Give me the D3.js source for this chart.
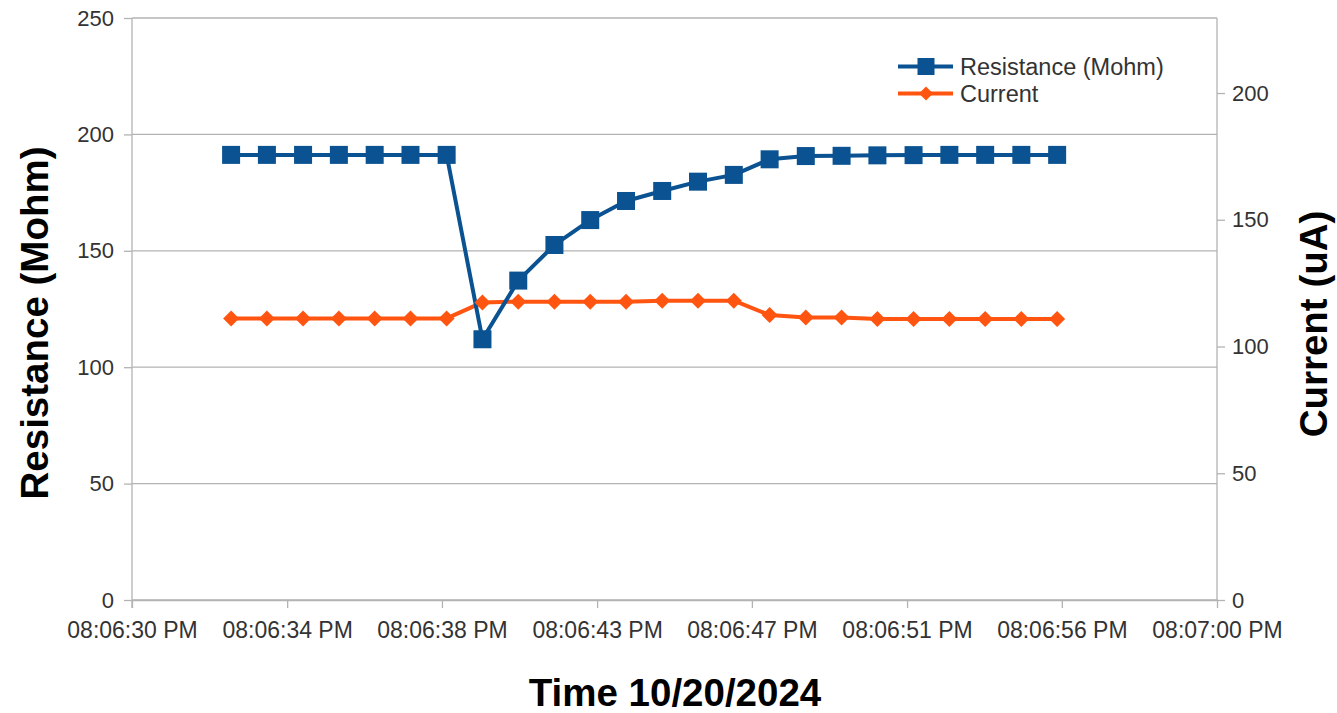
<!DOCTYPE html>
<html>
<head>
<meta charset="utf-8">
<script src="https://cdn.jsdelivr.net/npm/d3@7"></script>
<style>
  html, body { margin: 0; padding: 0; background: #fff; }
  svg { display: block; font-family: "Liberation Sans", Arial, sans-serif; }
</style>
</head>
<body>
<svg id="chart" width="1337" height="713"></svg>
<script>
// ---- data ----
const timeSeconds = [32.74, 33.73, 34.73, 35.72, 36.71, 37.70, 38.70, 39.69, 40.68, 41.68, 42.67, 43.66,
                     44.66, 45.65, 46.64, 47.63, 48.63, 49.62, 50.61, 51.61, 52.60, 53.59, 54.59, 55.58];
const resistance = [191.2, 191.2, 191.2, 191.2, 191.2, 191.2, 191.2, 112.0, 137.2, 152.5, 163.2, 171.4,
                    175.7, 179.7, 182.6, 189.3, 190.7, 190.8, 191.0, 191.1, 191.2, 191.2, 191.2, 191.2];
const current = [111.1, 111.1, 111.1, 111.1, 111.1, 111.1, 111.1, 117.4, 117.7, 117.7, 117.7, 117.7,
                 118.1, 118.1, 118.1, 112.4, 111.4, 111.4, 110.9, 110.9, 110.9, 110.9, 110.9, 110.9];
const xTickSeconds = [30, 34.29, 38.57, 42.86, 47.14, 51.43, 55.71, 60];
const xTickLabels = ["08:06:30 PM", "08:06:34 PM", "08:06:38 PM", "08:06:43 PM",
                     "08:06:47 PM", "08:06:51 PM", "08:06:56 PM", "08:07:00 PM"];
const leftTicks = [0, 50, 100, 150, 200, 250];
const rightTicks = [0, 50, 100, 150, 200];
const seriesNames = ["Resistance (Mohm)", "Current"];

// ---- layout ----
const L = 132, R = 1217, T = 18, B = 600;
const BLUE = "#0a5291", ORANGE = "#ff5510", GRID = "#b3b3b3";
const base = new Date(2024, 9, 20, 20, 6, 0);
const toDate = s => new Date(base.getTime() + s * 1000);

const svg = d3.select("#chart");
const x = d3.scaleTime().domain([toDate(30), toDate(60)]).range([L, R]);
const yL = d3.scaleLinear().domain([0, 250]).range([B, T]);
const yR = d3.scaleLinear().domain([0, 229.6]).range([B, T]);

// gridlines
svg.append("g").selectAll("line").data(leftTicks).join("line")
  .attr("x1", L).attr("x2", R)
  .attr("y1", d => yL(d)).attr("y2", d => yL(d))
  .attr("stroke", GRID).attr("stroke-width", 1.3);

// axes
const styleAxis = (g, fs) => {
  g.select(".domain").attr("stroke", GRID).attr("stroke-width", 1.3);
  g.selectAll(".tick line").attr("stroke", GRID).attr("stroke-width", 1.3);
  g.selectAll(".tick text").attr("fill", "#333").attr("font-size", fs)
    .attr("font-family", "Liberation Sans, Arial, sans-serif");
};

const xAxis = svg.append("g").attr("transform", `translate(0,${B})`)
  .call(d3.axisBottom(x).tickValues(xTickSeconds.map(toDate))
    .tickFormat((d, i) => xTickLabels[i]).tickSize(8).tickSizeOuter(0).tickPadding(14));
styleAxis(xAxis, 23);

const yAxisL = svg.append("g").attr("transform", `translate(${L},0)`)
  .call(d3.axisLeft(yL).tickValues(leftTicks).tickSize(8).tickSizeOuter(0).tickPadding(10));
styleAxis(yAxisL, 22);

const yAxisR = svg.append("g").attr("transform", `translate(${R},0)`)
  .call(d3.axisRight(yR).tickValues(rightTicks).tickSize(8).tickSizeOuter(0).tickPadding(7));
styleAxis(yAxisR, 22);
yAxisR.select(".domain").attr("d", `M0,${B}V${T}`);
yAxisL.select(".domain").attr("d", `M0,${B + 8}V${T}`);

// lines
const pts = (vals, y) => vals.map((v, i) => [x(toDate(timeSeconds[i])), y(v)]);
const resPts = pts(resistance, yL);
const curPts = pts(current, yR);

svg.append("path").attr("d", d3.line()(curPts))
  .attr("fill", "none").attr("stroke", ORANGE).attr("stroke-width", 4).attr("stroke-linejoin", "round");
svg.append("path").attr("d", d3.line()(resPts))
  .attr("fill", "none").attr("stroke", BLUE).attr("stroke-width", 4).attr("stroke-linejoin", "round");

const diamond = (cx, cy, r) => `M${cx},${cy - r}L${cx + r},${cy}L${cx},${cy + r}L${cx - r},${cy}Z`;

svg.append("g").selectAll("path").data(curPts).join("path")
  .attr("d", d => diamond(d[0], d[1], 8)).attr("fill", ORANGE);
svg.append("g").selectAll("rect").data(resPts).join("rect")
  .attr("x", d => d[0] - 9).attr("y", d => d[1] - 9)
  .attr("width", 18).attr("height", 18).attr("fill", BLUE);

// legend
const legend = svg.append("g");
const legendRows = [
  { name: seriesNames[0], color: BLUE, y: 66.5, marker: "square" },
  { name: seriesNames[1], color: ORANGE, y: 93.5, marker: "diamond" }
];
legendRows.forEach(r => {
  legend.append("line").attr("x1", 898).attr("x2", 953).attr("y1", r.y).attr("y2", r.y)
    .attr("stroke", r.color).attr("stroke-width", 4);
  if (r.marker === "square") {
    legend.append("rect").attr("x", 926 - 8.5).attr("y", r.y - 8.5).attr("width", 17).attr("height", 17).attr("fill", r.color);
  } else {
    legend.append("path").attr("d", diamond(926, r.y, 7)).attr("fill", r.color);
  }
  legend.append("text").attr("x", 960).attr("y", r.y).attr("dy", "0.36em")
    .attr("font-size", 23.5).attr("fill", "#333").text(r.name);
});

// axis titles
svg.append("text").attr("transform", `translate(48,323) rotate(-90)`)
  .attr("text-anchor", "middle").attr("font-size", 38.5).attr("font-weight", "bold").attr("fill", "#000")
  .text("Resistance (Mohm)");
svg.append("text").attr("transform", `translate(1327,324) rotate(-90)`)
  .attr("text-anchor", "middle").attr("font-size", 38.5).attr("font-weight", "bold").attr("fill", "#000")
  .text("Current (uA)");
svg.append("text").attr("x", 675).attr("y", 706)
  .attr("text-anchor", "middle").attr("font-size", 38.5).attr("font-weight", "bold").attr("fill", "#000")
  .text("Time 10/20/2024");
</script>
</body>
</html>
